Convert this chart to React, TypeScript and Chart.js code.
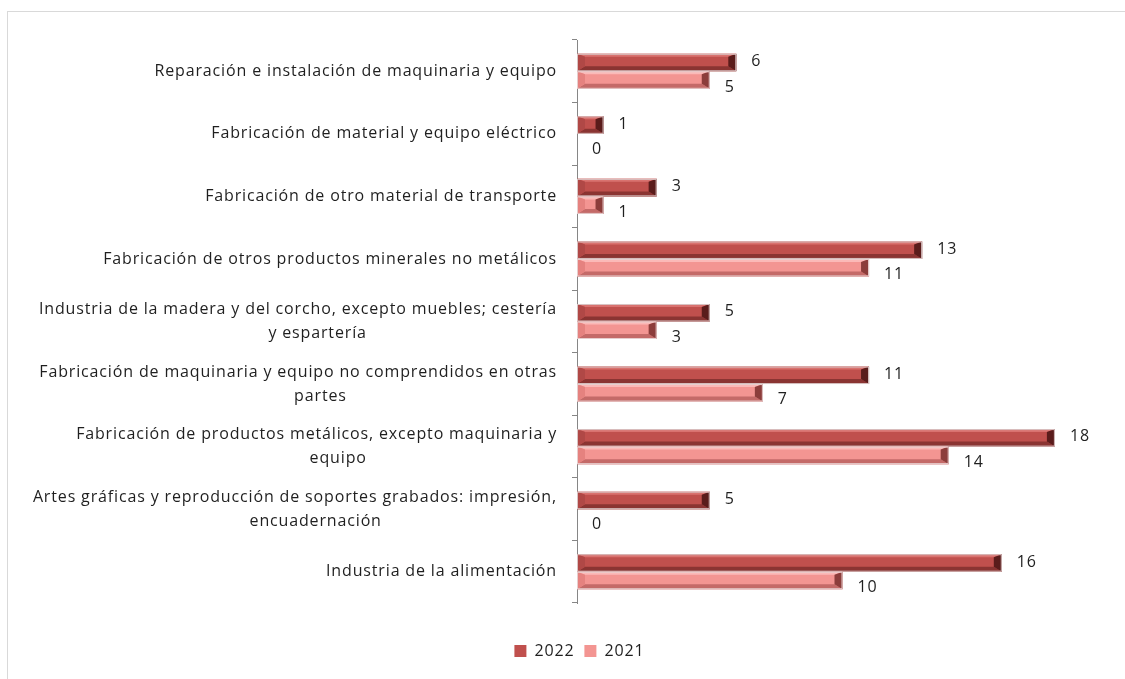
import React, { useEffect, useRef } from "react";
import { Chart, registerables } from "chart.js";

Chart.register(...registerables);

const categories: string[][] = [
  ["Reparación e instalación de maquinaria y equipo"],
  ["Fabricación de material y equipo eléctrico"],
  ["Fabricación de otro material de transporte"],
  ["Fabricación de otros productos minerales no metálicos"],
  ["Industria de la madera y del corcho, excepto muebles; cestería", "y espartería"],
  ["Fabricación de maquinaria y equipo no comprendidos en otras", "partes"],
  ["Fabricación de productos metálicos, excepto maquinaria y", "equipo"],
  ["Artes gráficas y reproducción de soportes grabados: impresión,", "encuadernación"],
  ["Industria de la alimentación"],
];

const seriesNames = ["2022", "2021"];
const values2022 = [6, 1, 3, 13, 5, 11, 18, 5, 16];
const values2021 = [5, 0, 1, 11, 3, 7, 14, 0, 10];

const FONT_FAMILY = "'Open Sans'";
const FONT_SIZE = 16;
const LETTER_SPACING = "0.85px";
const TEXT_COLOR = "#1f1f1f";

const palettes = [
  { body: "#c0504d", top: "#d9726f", bottom: "#8a3432", right: "#5a1c1b", left: "#b04846", outline: "#d8c4c4" },
  { body: "#f39592", top: "#fbb9b7", bottom: "#c46a68", right: "#8c3d3b", left: "#e5827f", outline: "#e6cfcf" },
];

function padSecondLine(lines: string[]): string[] {
  if (lines.length < 2) return lines;
  const c: any = document.createElement("canvas").getContext("2d")!;
  c.font = `${FONT_SIZE}px ${FONT_FAMILY}`;
  c.letterSpacing = LETTER_SPACING;
  const w1 = c.measureText(lines[0]).width;
  const w2 = c.measureText(lines[1]).width;
  const sp = c.measureText(" ").width;
  const trail = w1 / 2 - 20 - w2 / 2;
  const n = Math.max(0, Math.round(trail / sp));
  return [lines[0], lines[1] + " ".repeat(n)];
}

const spacingPlugin = {
  id: "spacing",
  beforeDraw(chart: any) {
    chart.ctx.letterSpacing = LETTER_SPACING;
  },
};

const bevelPlugin = {
  id: "bevel",
  afterDatasetsDraw(chart: any) {
    const ctx = chart.ctx;
    chart.data.datasets.forEach((ds: any, di: number) => {
      const meta = chart.getDatasetMeta(di);
      const p = palettes[di];
      meta.data.forEach((el: any) => {
        const x0 = Math.min(el.base, el.x);
        const x1 = Math.max(el.base, el.x);
        const h = el.height;
        const y0 = el.y - h / 2;
        const y1 = el.y + h / 2;
        if (x1 - x0 < 1) return;
        const bs = Math.min(8, (x1 - x0) / 2);
        const bt = 3;
        const bb = 5;
        ctx.save();
        const poly = (pts: number[][], color: string) => {
          ctx.beginPath();
          ctx.moveTo(pts[0][0], pts[0][1]);
          for (let i = 1; i < pts.length; i++) ctx.lineTo(pts[i][0], pts[i][1]);
          ctx.closePath();
          ctx.fillStyle = color;
          ctx.fill();
        };
        poly([[x0, y0], [x1, y0], [x1 - bs, y0 + bt], [x0 + bs, y0 + bt]], p.top);
        poly([[x0, y1], [x1, y1], [x1 - bs, y1 - bb], [x0 + bs, y1 - bb]], p.bottom);
        poly([[x1, y0], [x1, y1], [x1 - bs, y1 - bb], [x1 - bs, y0 + bt]], p.right);
        poly([[x0, y0], [x0, y1], [x0 + bs, y1 - bb], [x0 + bs, y0 + bt]], p.left);
        ctx.strokeStyle = p.outline;
        ctx.lineWidth = 1;
        ctx.strokeRect(x0 + 0.5, y0 + 0.5, x1 - x0 - 1, h - 1);
        ctx.restore();
      });
    });
  },
};

const valueLabelPlugin = {
  id: "valueLabels",
  afterDatasetsDraw(chart: any) {
    const ctx = chart.ctx;
    ctx.save();
    ctx.font = `${FONT_SIZE}px ${FONT_FAMILY}`;
    ctx.letterSpacing = LETTER_SPACING;
    ctx.fillStyle = TEXT_COLOR;
    ctx.textAlign = "left";
    ctx.textBaseline = "middle";
    chart.data.datasets.forEach((ds: any, di: number) => {
      const meta = chart.getDatasetMeta(di);
      const dy = di === 0 ? -1 : 7;
      meta.data.forEach((el: any, i: number) => {
        ctx.fillText(String(ds.data[i]), Math.max(el.x, el.base) + 15, el.y + dy);
      });
    });
    ctx.restore();
  },
};

export default function App() {
  const ref = useRef<HTMLCanvasElement>(null);

  useEffect(() => {
    if (!ref.current) return;
    const chart = new Chart(ref.current, {
      type: "bar",
      data: {
        labels: categories.map(padSecondLine) as any,
        datasets: [
          {
            label: seriesNames[0],
            data: values2022,
            backgroundColor: palettes[0].body,
            borderWidth: 0,
          },
          {
            label: seriesNames[1],
            data: values2021,
            backgroundColor: palettes[1].body,
            borderWidth: 0,
          },
        ],
      },
      options: {
        indexAxis: "y",
        responsive: false,
        animation: false,
        devicePixelRatio: 1,
        layout: { padding: { left: 36, right: 17, top: 28, bottom: 10 } },
        datasets: {
          bar: { categoryPercentage: 0.56, barPercentage: 1 },
        },
        scales: {
          x: { display: false, min: 0, max: 20 },
          y: {
            afterFit: (scale: any) => {
              scale.width = 533;
              // let long wrapped labels extend past the axis box (no clipping)
              scale._computeLabelArea = () => undefined;
            },
            border: { display: true, color: "#868686", width: 1 },
            grid: {
              display: true,
              drawOnChartArea: false,
              drawTicks: true,
              tickLength: 5,
              color: "#868686",
              offset: true,
            },
            ticks: {
              autoSkip: false,
              padding: 15,
              color: TEXT_COLOR,
              font: { family: FONT_FAMILY, size: FONT_SIZE, lineHeight: "24px" },
            },
          },
        },
        plugins: {
          tooltip: { enabled: false },
          legend: {
            display: true,
            position: "bottom",
            title: { display: true, text: "", font: { size: 10 }, padding: 9 },
            labels: {
              boxWidth: 12,
              boxHeight: 12,
              padding: 10,
              color: TEXT_COLOR,
              font: { family: FONT_FAMILY, size: FONT_SIZE },
            },
          },
        },
      } as any,
      plugins: [spacingPlugin, bevelPlugin, valueLabelPlugin],
    });
    return () => chart.destroy();
  }, []);

  return (
    <div
      style={{
        position: "fixed",
        left: 0,
        top: 0,
        width: 1125,
        height: 679,
        overflow: "hidden",
        background: "#fff",
      }}
    >
      <div
        style={{
          position: "absolute",
          left: 7,
          top: 11,
          width: 1200,
          height: 800,
          borderLeft: "1px solid #d9d9d9",
          borderTop: "1px solid #d9d9d9",
        }}
      />
      <canvas
        ref={ref}
        width={1117}
        height={667}
        style={{ position: "absolute", left: 8, top: 12, width: 1117, height: 667 }}
      />
    </div>
  );
}
